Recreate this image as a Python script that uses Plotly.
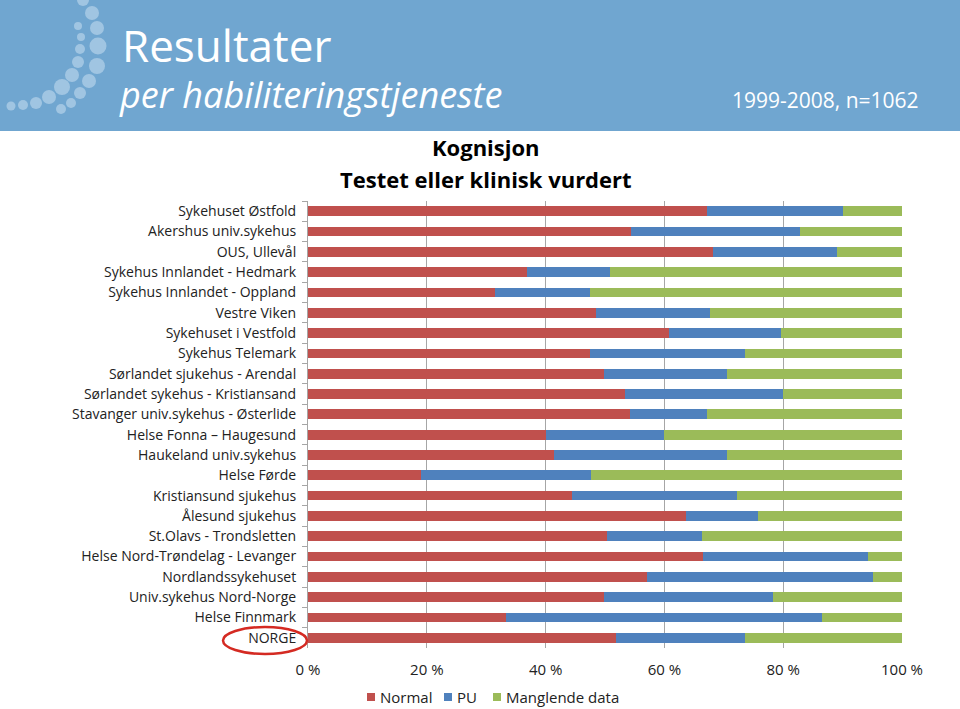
import plotly.graph_objects as go

categories = [
    "Sykehuset Østfold", "Akershus univ.sykehus", "OUS, Ullevål",
    "Sykehus Innlandet - Hedmark", "Sykehus Innlandet - Oppland", "Vestre Viken",
    "Sykehuset i Vestfold", "Sykehus Telemark", "Sørlandet sjukehus - Arendal",
    "Sørlandet sykehus - Kristiansand", "Stavanger univ.sykehus - Østerlide",
    "Helse Fonna – Haugesund", "Haukeland univ.sykehus", "Helse Førde",
    "Kristiansund sjukehus", "Ålesund sjukehus", "St.Olavs - Trondsletten",
    "Helse Nord-Trøndelag - Levanger", "Nordlandssykehuset",
    "Univ.sykehus Nord-Norge", "Helse Finnmark", "NORGE",
]
normal = [67.1, 54.4, 68.2, 36.9, 31.5, 48.5, 60.7, 47.4, 49.9, 53.3, 54.2,
          40.0, 41.4, 19.1, 44.4, 63.6, 50.4, 66.5, 57.1, 49.9, 33.3, 51.9]
pu = [23.0, 28.4, 20.8, 14.0, 15.9, 19.2, 19.0, 26.2, 20.6, 26.6, 13.0,
      19.9, 29.2, 28.5, 27.8, 12.1, 15.9, 27.8, 38.0, 28.3, 53.3, 21.6]
manglende = [round(100 - a - b, 1) for a, b in zip(normal, pu)]
series_names = ["Normal", "PU", "Manglende data"]
tick_vals = [0, 20, 40, 60, 80, 100]
tick_labels = ["0 %", "20 %", "40 %", "60 %", "80 %", "100 %"]

colors = ["#c0504d", "#4f81bd", "#9bbb59"]

W, H = 960, 709
L, R, T, B = 308, 902, 201, 648

def px(x):
    return (x - L) / (R - L)

def py(y):
    return (B - y) / (B - T)

fig = go.Figure()
for name, vals, c in zip(series_names, [normal, pu, manglende], colors):
    fig.add_trace(go.Bar(y=categories, x=vals, name=name, orientation="h",
                         marker=dict(color=c, line=dict(width=0)),
                         showlegend=False))

shapes = []
# header band
shapes.append(dict(type="rect", xref="paper", yref="paper", x0=px(0), x1=px(W),
                   y0=py(131), y1=py(0), fillcolor="#70a6d0", line=dict(width=0),
                   layer="below"))
dots = [(83, 0, 6), (92, 13, 7), (78, 26, 4), (97, 28, 7), (81, 37, 4), (98, 46, 8.5),
        (80, 49, 5), (97, 66, 8), (78, 62, 6), (72, 75, 7), (89, 81, 7), (62, 87, 8),
        (80, 93, 6), (49, 97, 7), (71, 103, 5), (36, 103, 6), (23, 105, 5),
        (11, 106, 4.5), (61, 109, 5)]
for (cx, cy, r) in dots:
    shapes.append(dict(type="circle", xref="paper", yref="paper",
                       x0=px(cx - r), x1=px(cx + r), y0=py(cy + r), y1=py(cy - r),
                       fillcolor="rgba(200,222,240,0.55)", line=dict(width=0)))
# red ellipse around NORGE
shapes.append(dict(type="circle", xref="paper", yref="paper",
                   x0=px(223), x1=px(307), y0=py(654), y1=py(627),
                   fillcolor="rgba(0,0,0,0)", line=dict(color="#d42a22", width=2.5)))

def ann(text, x, y, xanchor, size, color, family="Open Sans"):
    return dict(text=text, x=px(x), y=py(y), xref="paper", yref="paper",
                xanchor=xanchor, yanchor="middle", showarrow=False,
                font=dict(family=family, size=size, color=color))

annotations = [
    ann("Resultater", 120, 45, "left", 44, "white"),
    ann("<i>per habiliteringstjeneste</i>", 117, 95, "left", 36, "white"),
    ann("1999-2008, n=1062", 921, 100, "right", 21, "white"),
    ann("<b>Kognisjon</b>", 486, 147, "center", 22, "black"),
    ann("<b>Testet eller klinisk vurdert</b>", 486, 179, "center", 22, "black"),
]

# manual legend (small squares close to text, as in the reference)
legend_sq_x = [367, 444, 493]
legend_y = 697
for name, c, sx in zip(series_names, colors, legend_sq_x):
    shapes.append(dict(type="rect", xref="paper", yref="paper",
                       x0=px(sx), x1=px(sx + 8), y0=py(legend_y + 4), y1=py(legend_y - 4),
                       fillcolor=c, line=dict(width=0)))
    annotations.append(ann(name, sx + 11, legend_y, "left", 15, "#222222"))

fig.update_layout(
    width=W, height=H, barmode="stack", bargap=0.52,
    margin=dict(l=L, r=W - R, t=T, b=H - B, pad=0, autoexpand=False),
    paper_bgcolor="white", plot_bgcolor="white",
    font=dict(family="Open Sans", color="#222222", size=14),
    shapes=shapes, annotations=annotations,
    showlegend=False,
)
fig.update_xaxes(range=[0, 100], tickvals=tick_vals, ticktext=tick_labels,
                 showgrid=True, gridcolor="#a6a6a6", gridwidth=1, zeroline=False,
                 showline=False, ticks="", ticklabelstandoff=11,
                 tickfont=dict(size=15, color="#222222"), fixedrange=True)
fig.update_yaxes(autorange="reversed", showline=True, linecolor="#a6a6a6",
                 ticks="outside", ticklen=5, tickcolor="#a6a6a6",
                 tickson="boundaries", ticklabelstandoff=8, showgrid=False,
                 tickfont=dict(size=14, color="#222222"))

fig.write_html("out.html", config=dict(displayModeBar=False),
               post_script="document.body.style.margin='0px';document.body.style.padding='0px';")
